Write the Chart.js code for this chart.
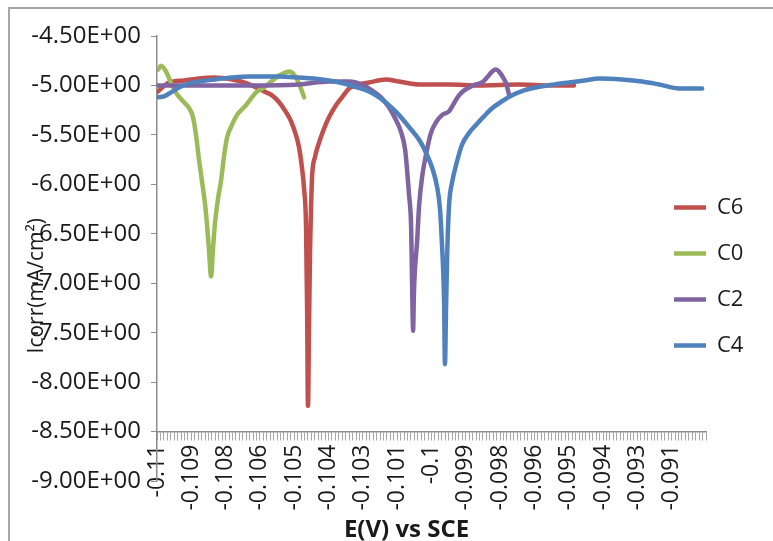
<!DOCTYPE html>
<html>
<head>
<meta charset="utf-8">
<script src="https://cdn.jsdelivr.net/npm/chart.js@4.4.1/dist/chart.umd.min.js"></script>
<style>
    html, body { margin: 0; padding: 0; background: #ffffff; }
    #wrap { position: relative; width: 773px; height: 541px; overflow: hidden; }
    #frame { position: absolute; left: 8px; top: 7px; width: 800px; height: 600px; border: 2px solid #a6a6a6; box-sizing: border-box; }
    #chart { position: absolute; left: 0; top: 0; }
</style>
</head>
<body>
<div id="wrap">
    <div id="frame"></div>
    <canvas id="chart" width="773" height="541"></canvas>
</div>
<script>
// x tick labels, one every 10 minor ticks
const E_LABELS = ['-0.11', '-0.109', '-0.108', '-0.106', '-0.105', '-0.104', '-0.103', '-0.101',
    '-0.1', '-0.099', '-0.098', '-0.096', '-0.095', '-0.094', '-0.093', '-0.091'];

// C6
const c6E = [-0.11000, -0.10956, -0.10902, -0.10847, -0.10792, -0.10727, -0.10683, -0.10639, -0.10610, -0.10581,
    -0.10555, -0.10530, -0.10512, -0.10494, -0.10483, -0.10472, -0.10464, -0.10457, -0.10453, -0.10450,
    -0.10446, -0.10442, -0.10439, -0.10435, -0.10424, -0.10410, -0.10392, -0.10373, -0.10348, -0.10326,
    -0.10300, -0.10264, -0.10228, -0.10166, -0.10118, -0.10045, -0.09936, -0.09827, -0.09681, -0.09572, -0.09481];
const c6I = [-5.07, -4.97, -4.95, -4.93, -4.92, -4.94, -4.97, -5.02, -5.06, -5.10,
    -5.17, -5.27, -5.36, -5.50, -5.62, -5.83, -6.05, -6.43, -7.30, -8.24,
    -7.40, -6.60, -6.26, -5.92, -5.72, -5.58, -5.44, -5.32, -5.20, -5.12,
    -5.03, -4.99, -4.97, -4.94, -4.96, -4.99, -4.99, -5.00, -4.99, -5.00, -5.00];

// C0
const c0E = [-0.10996, -0.10985, -0.10967, -0.10945, -0.10927, -0.10905, -0.10883, -0.10869, -0.10858, -0.10847,
    -0.10836, -0.10825, -0.10818, -0.10811, -0.10803, -0.10796, -0.10789, -0.10778, -0.10767, -0.10756,
    -0.10745, -0.10727, -0.10709, -0.10676, -0.10639, -0.10610, -0.10566, -0.10541, -0.10519, -0.10501,
    -0.10483, -0.10464];
const c0I = [-4.84, -4.80, -4.86, -5.00, -5.09, -5.16, -5.23, -5.32, -5.50, -5.75,
    -5.97, -6.20, -6.40, -6.65, -6.93, -6.65, -6.40, -6.15, -5.97, -5.72,
    -5.53, -5.40, -5.30, -5.20, -5.07, -5.02, -4.92, -4.88, -4.86, -4.89,
    -4.98, -5.12];

// C2
const c2E = [-0.10996, -0.10847, -0.10665, -0.10483, -0.10373, -0.10300, -0.10246, -0.10217, -0.10184, -0.10155,
    -0.10133, -0.10111, -0.10096, -0.10089, -0.10082, -0.10074, -0.10071, -0.10067, -0.10064, -0.10060,
    -0.10053, -0.10045, -0.10034, -0.10020, -0.10002, -0.09983, -0.09962, -0.09936, -0.09918, -0.09900,
    -0.09881, -0.09863, -0.09838, -0.09816, -0.09798, -0.09779, -0.09765, -0.09754, -0.09739, -0.09728, -0.09717];
const c2I = [-5.00, -5.00, -5.00, -4.99, -4.96, -4.96, -5.00, -5.05, -5.12, -5.22,
    -5.33, -5.47, -5.65, -5.85, -6.10, -6.45, -6.95, -7.48, -7.10, -6.85,
    -6.60, -6.21, -5.92, -5.70, -5.48, -5.37, -5.30, -5.26, -5.18, -5.10,
    -5.05, -5.02, -4.99, -4.97, -4.92, -4.86, -4.84, -4.86, -4.92, -4.98, -5.10];

// C4
const c4E = [-0.10996, -0.10975, -0.10949, -0.10920, -0.10883, -0.10847, -0.10792, -0.10727, -0.10665, -0.10610,
    -0.10555, -0.10483, -0.10428, -0.10373, -0.10319, -0.10271, -0.10228, -0.10191, -0.10155, -0.10118,
    -0.10082, -0.10045, -0.10020, -0.09998, -0.09980, -0.09969, -0.09962, -0.09954, -0.09951, -0.09947,
    -0.09943, -0.09936, -0.09925, -0.09910, -0.09889, -0.09863, -0.09838, -0.09808, -0.09779, -0.09743,
    -0.09706, -0.09663, -0.09619, -0.09553, -0.09499, -0.09444, -0.09389, -0.09306, -0.09233, -0.09171,
    -0.09098, -0.09014];
const c4I = [-5.12, -5.11, -5.07, -5.02, -4.98, -4.96, -4.94, -4.92, -4.91, -4.91,
    -4.91, -4.92, -4.93, -4.95, -4.98, -5.02, -5.06, -5.12, -5.20, -5.30,
    -5.42, -5.55, -5.68, -5.83, -6.02, -6.25, -6.60, -7.20, -7.82, -7.25,
    -6.72, -6.21, -5.98, -5.80, -5.60, -5.48, -5.40, -5.31, -5.23, -5.16,
    -5.10, -5.05, -5.02, -4.99, -4.97, -4.95, -4.93, -4.94, -4.96, -4.99,
    -5.03, -5.03];

const FONT = "'Open Sans', sans-serif";
const TEXT = '#1a1a1a';
const AXIS = '#8c8c8c';

function pts(xs, ys) {
    return xs.map((x, i) => ({x: x, y: ys[i]}));
}

function sci(v) {
    const parts = v.toExponential(2).split('e');
    const ex = parseInt(parts[1], 10);
    return parts[0] + 'E' + (ex < 0 ? '-' : '+') + String(Math.abs(ex)).padStart(2, '0');
}

function series(label, xs, ys, color, order) {
    return {
        label: label,
        data: pts(xs, ys),
        borderColor: color,
        backgroundColor: color,
        borderWidth: 4.5,
        borderCapStyle: 'round',
        borderJoinStyle: 'round',
        cubicInterpolationMode: 'monotone',
        pointRadius: 0,
        pointHoverRadius: 0,
        pointStyle: 'line',
        pointBorderColor: color,
        pointBorderWidth: 4.5,
        order: order
    };
}

// Excel lets the legend sit over the plot area; keep the built-in legend but
// take it out of the layout and place it by hand.
const LEGEND_LEFT = 650;
const LEGEND_SHIFT = 18;
const legend_overlay = {
    id: 'legend_overlay',
    beforeLayout(chart) {
        const lg = chart.legend;
        if (lg && !lg._overlay) {
            const fit = lg.fit;
            lg.fit = function () {
                fit.call(this);
                this._realWidth = this.width;
                this.width = 0;
            };
            lg._overlay = true;
        }
    },
    afterLayout(chart) {
        const lg = chart.legend;
        lg.left = LEGEND_LEFT;
        lg.width = lg._realWidth || 120;
        lg.right = lg.left + lg.width;
        lg.top += LEGEND_SHIFT;
        lg.bottom += LEGEND_SHIFT;
    }
};

new Chart(document.getElementById('chart'), {
    type: 'line',
    data: {
        datasets: [
            series('C6', c6E, c6I, '#C0504D', 3),
            series('C0', c0E, c0I, '#9BBB59', 2),
            series('C2', c2E, c2I, '#8064A2', 1),
            series('C4', c4E, c4I, '#4F81BD', 0)
        ]
    },
    options: {
        responsive: false,
        animation: false,
        devicePixelRatio: 1,
        layout: {padding: {left: 10, right: 67, top: 36, bottom: 60}},
        plugins: {
            tooltip: {enabled: false},
            legend: {
                position: 'right',
                labels: {
                    usePointStyle: true,
                    pointStyleWidth: 32,
                    boxHeight: 4,
                    padding: 24,
                    color: TEXT,
                    font: {family: FONT, size: 22},
                    sort: (a, b) => a.datasetIndex - b.datasetIndex
                }
            }
        },
        scales: {
            x: {
                type: 'linear',
                position: {y: -8.5},
                min: -0.11,
                max: -0.09,
                grid: {drawOnChartArea: false, drawTicks: true, tickLength: 8, color: '#a6a6a6'},
                border: {display: true, color: AXIS, width: 1.5},
                ticks: {
                    stepSize: 0.000125,
                    autoSkip: false,
                    minRotation: 90,
                    maxRotation: 90,
                    padding: 5,
                    color: TEXT,
                    font: {family: FONT, size: 23},
                    callback: (value, index) => (index % 10 === 0 ? (E_LABELS[index / 10] || '') : '')
                },
                title: {
                    display: true,
                    // trailing spaces pull the centred title left, as Excel placed it
                    text: 'E(V) vs SCE        ',
                    color: TEXT,
                    font: {family: FONT, size: 24, weight: 'bold'},
                    padding: {top: 0, bottom: 0}
                }
            },
            y: {
                type: 'linear',
                min: -9,
                max: -4.5,
                grid: {drawOnChartArea: false, drawTicks: true, tickLength: 6, color: AXIS},
                border: {display: true, color: AXIS, width: 1.5},
                ticks: {
                    stepSize: 0.5,
                    padding: 10,
                    color: TEXT,
                    font: {family: FONT, size: 24},
                    callback: (v) => sci(v)
                },
                title: {
                    display: true,
                    // trailing spaces push the rotated title down, as Excel placed it
                    text: 'Icorr(mA/cm²)          ',
                    color: TEXT,
                    font: {family: FONT, size: 21},
                    padding: {top: 14, bottom: 0}
                },
                afterFit: (scale) => { scale.width = 147; }
            }
        }
    },
    plugins: [legend_overlay]
});
</script>
</body>
</html>
